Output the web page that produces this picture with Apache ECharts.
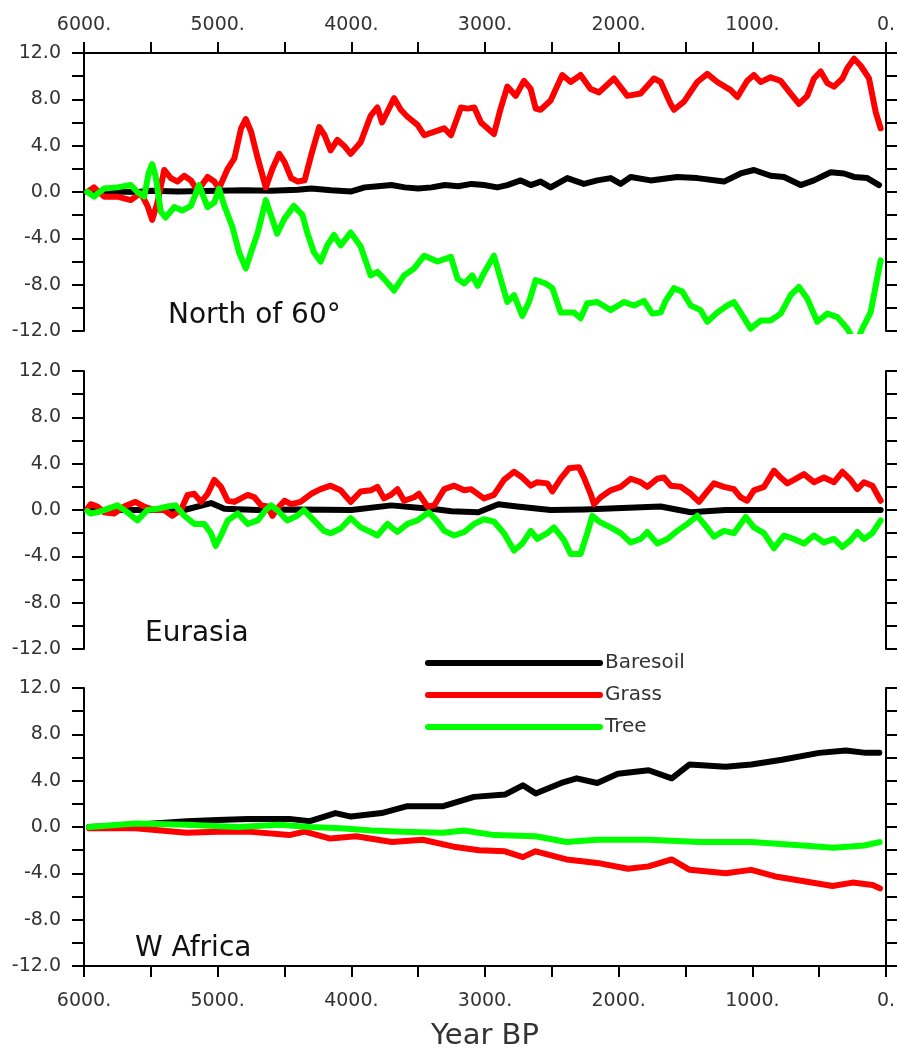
<!DOCTYPE html>
<html><head><meta charset="utf-8">
<script src="https://cdn.jsdelivr.net/npm/echarts@6/dist/echarts.min.js"></script>
<style>html,body{margin:0;padding:0;background:#fff}#c{width:899px;height:1054px}</style>
</head><body><div id="c"></div>
<script>
// ---- data: [Year BP, value] ----
const xTickLabels = ['6000.','5000.','4000.','3000.','2000.','1000.','0.'];
const panelNames = ['North of 60°','Eurasia','W Africa'];
const seriesNames = ['Baresoil','Grass','Tree'];

const north_bare = [[5975,0],[5800,0.05],[5600,0],[5500,0.1],[5300,0.05],[5000,0.1],[4800,0.15],[4600,0.1],[4400,0.2],[4300,0.3],[4150,0.15],[4000,0.05],[3900,0.4],[3800,0.5],[3700,0.6],[3600,0.4],[3500,0.3],[3400,0.4],[3300,0.6],[3200,0.5],[3100,0.7],[3008,0.6],[2908,0.4],[2833,0.6],[2733,1.0],[2658,0.6],[2584,0.9],[2509,0.4],[2384,1.2],[2260,0.7],[2160,1.0],[2060,1.2],[1985,0.7],[1910,1.3],[1761,1.0],[1561,1.3],[1412,1.2],[1212,0.9],[1088,1.6],[988,1.9],[863,1.4],[763,1.3],[639,0.6],[539,1.0],[414,1.7],[314,1.6],[239,1.3],[140,1.2],[52,0.6]];
const north_grass = [[5975,0.0],[5925,0.4],[5850,-0.4],[5750,-0.4],[5650,-0.7],[5575,-0.1],[5525,-1.2],[5490,-2.4],[5450,-0.9],[5400,1.9],[5350,1.2],[5300,0.9],[5250,1.4],[5200,1.0],[5150,0.1],[5075,1.3],[5025,0.9],[4990,0.3],[4925,2.0],[4875,2.9],[4825,5.5],[4790,6.3],[4750,5.2],[4700,2.9],[4640,0.4],[4590,2.0],[4540,3.3],[4500,2.6],[4450,1.2],[4400,0.9],[4350,1.0],[4300,3.2],[4240,5.6],[4200,4.9],[4155,3.6],[4105,4.5],[4055,4.0],[4005,3.3],[3930,4.3],[3855,6.6],[3805,7.3],[3770,6.0],[3680,8.1],[3630,7.1],[3580,6.5],[3505,5.8],[3455,4.9],[3355,5.3],[3305,5.5],[3255,4.9],[3180,7.3],[3130,7.2],[3080,7.3],[3030,6.0],[2933,5.0],[2883,7.2],[2833,9.1],[2770,8.3],[2708,9.6],[2658,8.9],[2621,7.2],[2584,7.1],[2509,7.9],[2422,10.1],[2359,9.5],[2285,10.1],[2210,8.9],[2147,8.6],[2035,9.8],[1935,8.3],[1836,8.5],[1736,9.8],[1686,9.5],[1611,7.6],[1586,7.1],[1511,7.8],[1412,9.5],[1337,10.2],[1262,9.5],[1162,8.8],[1112,8.2],[1038,9.6],[988,10.1],[938,9.5],[863,9.9],[788,9.6],[713,8.5],[651,7.6],[589,8.3],[539,9.8],[489,10.4],[439,9.4],[389,9.1],[326,9.8],[289,10.7],[239,11.5],[189,10.9],[127,9.8],[77,6.9],[40,5.5]];
const north_tree = [[5975,0.0],[5925,-0.4],[5850,0.3],[5750,0.4],[5650,0.6],[5600,0.0],[5550,-0.4],[5515,1.7],[5490,2.4],[5465,1.4],[5425,-1.7],[5390,-2.2],[5325,-1.3],[5265,-1.6],[5200,-1.2],[5140,0.6],[5075,-1.3],[5025,-0.9],[4990,0.3],[4950,-1.2],[4890,-3.0],[4840,-5.2],[4790,-6.6],[4750,-5.2],[4700,-3.5],[4640,-0.7],[4590,-2.4],[4555,-3.6],[4500,-2.3],[4430,-1.2],[4365,-2.0],[4330,-3.5],[4280,-5.2],[4230,-6.0],[4180,-4.6],[4130,-3.7],[4080,-4.6],[4005,-3.5],[3930,-4.7],[3855,-7.2],[3805,-6.9],[3755,-7.5],[3680,-8.5],[3605,-7.2],[3530,-6.6],[3455,-5.5],[3355,-6.0],[3255,-5.6],[3205,-7.5],[3155,-7.9],[3095,-7.2],[3055,-8.1],[3008,-7.0],[2933,-5.5],[2883,-7.5],[2833,-9.5],[2783,-8.9],[2721,-10.7],[2671,-9.5],[2621,-7.6],[2546,-7.9],[2496,-8.3],[2434,-10.4],[2334,-10.4],[2285,-10.9],[2235,-9.6],[2160,-9.5],[2060,-10.2],[1960,-9.5],[1885,-9.8],[1811,-9.4],[1748,-10.5],[1686,-10.4],[1649,-9.4],[1586,-8.3],[1524,-8.6],[1461,-9.8],[1387,-10.2],[1337,-11.2],[1262,-10.4],[1187,-9.8],[1138,-9.5],[1088,-10.4],[1013,-11.8],[938,-11.1],[863,-11.1],[788,-10.5],[713,-8.9],[651,-8.2],[589,-9.2],[514,-11.2],[439,-10.5],[364,-10.8],[289,-11.8],[252,-12.6],[214,-12.8],[177,-11.8],[115,-10.4],[77,-8.1],[40,-5.9]];

const eurasia_bare = [[5975,0],[5700,0.0],[5500,0.0],[5250,0.0],[5050,0.6],[4950,0.1],[4700,0.0],[4400,0.05],[4000,0.0],[3700,0.4],[3500,0.2],[3400,0.1],[3250,-0.1],[3050,-0.2],[2900,0.5],[2760,0.3],[2509,0.0],[2260,0.05],[1686,0.3],[1461,-0.2],[1200,0.0],[800,0.0],[400,0.0],[40,0.0]];
const eurasia_grass = [[5975,0.1],[5950,0.5],[5900,0.3],[5850,-0.2],[5775,-0.3],[5700,0.3],[5615,0.7],[5550,0.3],[5475,0.0],[5400,0.0],[5340,-0.5],[5275,0.0],[5225,1.3],[5175,1.4],[5125,0.7],[5075,1.4],[5025,2.6],[4975,2.0],[4925,0.8],[4875,0.7],[4825,1.0],[4775,1.3],[4725,1.1],[4675,0.4],[4625,0.3],[4590,-0.5],[4555,0.1],[4500,0.8],[4450,0.5],[4380,0.7],[4300,1.4],[4230,1.8],[4155,2.1],[4080,1.7],[4005,0.7],[3930,1.6],[3855,1.7],[3805,2.0],[3755,1.0],[3705,1.3],[3655,1.8],[3605,0.8],[3530,1.1],[3495,1.4],[3430,0.3],[3380,0.4],[3305,1.8],[3230,2.1],[3155,1.7],[3105,1.8],[3008,1.0],[2933,1.3],[2858,2.6],[2783,3.3],[2721,2.8],[2658,2.1],[2609,2.4],[2534,2.3],[2496,1.6],[2434,2.7],[2372,3.6],[2297,3.7],[2260,2.8],[2210,1.4],[2185,0.5],[2135,1.1],[2060,1.7],[1985,2.0],[1910,2.7],[1836,2.4],[1786,2.0],[1711,2.7],[1661,2.8],[1611,2.1],[1536,2.0],[1461,1.4],[1399,0.7],[1337,1.6],[1287,2.3],[1212,2.0],[1138,1.8],[1088,1.1],[1038,0.8],[988,1.7],[913,2.0],[838,3.4],[788,2.8],[738,2.3],[689,2.6],[614,3.1],[539,2.4],[464,2.8],[389,2.4],[326,3.3],[264,2.6],[214,1.8],[165,2.4],[102,2.1],[40,0.8]];
const eurasia_tree = [[5975,-0.1],[5950,-0.3],[5900,-0.2],[5825,0.1],[5750,0.4],[5675,-0.2],[5600,-0.9],[5525,0.0],[5450,0.1],[5375,0.3],[5315,0.4],[5250,-0.5],[5175,-1.2],[5100,-1.2],[5050,-2.0],[5015,-3.1],[4975,-2.2],[4925,-0.9],[4850,-0.3],[4775,-1.2],[4700,-0.9],[4640,0.0],[4600,0.4],[4555,0.0],[4480,-0.9],[4405,-0.5],[4355,0.0],[4280,-0.9],[4205,-1.8],[4155,-2.0],[4080,-1.6],[4005,-0.7],[3930,-1.5],[3855,-1.9],[3805,-2.2],[3730,-1.2],[3655,-1.9],[3580,-1.2],[3505,-0.9],[3420,-0.2],[3355,-1.0],[3305,-1.8],[3230,-2.2],[3155,-1.9],[3080,-1.2],[3008,-0.8],[2933,-1.0],[2858,-2.0],[2783,-3.5],[2721,-2.9],[2658,-1.8],[2609,-2.5],[2534,-2.0],[2484,-1.5],[2409,-2.6],[2359,-3.8],[2285,-3.8],[2235,-2.0],[2197,-0.5],[2147,-1.0],[2060,-1.5],[1985,-2.0],[1910,-2.8],[1836,-2.5],[1786,-1.9],[1711,-2.9],[1636,-2.5],[1561,-1.8],[1486,-1.2],[1412,-0.5],[1362,-1.2],[1287,-2.3],[1212,-1.8],[1138,-2.0],[1050,-0.6],[988,-1.5],[913,-2.0],[838,-3.3],[763,-2.2],[689,-2.5],[614,-2.9],[539,-2.2],[464,-2.8],[389,-2.5],[326,-3.2],[264,-2.6],[214,-1.9],[165,-2.5],[102,-2.0],[40,-0.9]];

const wafrica_bare = [[5962,0.0],[5616,0.2],[5232,0.5],[5002,0.6],[4771,0.7],[4464,0.7],[4310,0.5],[4118,1.2],[4003,0.9],[3773,1.2],[3581,1.8],[3312,1.8],[3082,2.6],[2851,2.8],[2717,3.6],[2621,2.9],[2429,3.8],[2314,4.2],[2160,3.8],[2006,4.6],[1776,4.9],[1603,4.2],[1469,5.4],[1200,5.2],[1008,5.4],[778,5.8],[500,6.4],[300,6.6],[150,6.4],[50,6.4]];
const wafrica_grass = [[5962,-0.1],[5616,-0.1],[5424,-0.3],[5232,-0.5],[5002,-0.4],[4771,-0.4],[4464,-0.7],[4349,-0.4],[4157,-1.0],[3965,-0.8],[3696,-1.3],[3466,-1.1],[3235,-1.7],[3043,-2.0],[2851,-2.1],[2717,-2.6],[2621,-2.1],[2390,-2.8],[2160,-3.1],[1930,-3.6],[1776,-3.4],[1603,-2.8],[1469,-3.7],[1200,-4.0],[1008,-3.7],[816,-4.3],[500,-4.9],[400,-5.1],[250,-4.8],[100,-5.0],[45,-5.3]];
const wafrica_tree = [[5962,0.0],[5616,0.3],[5232,0.2],[4848,0.0],[4541,0.2],[4310,0.0],[4080,-0.1],[3850,-0.3],[3619,-0.4],[3312,-0.5],[3158,-0.3],[2928,-0.7],[2621,-0.8],[2390,-1.3],[2160,-1.1],[1776,-1.1],[1392,-1.3],[1008,-1.3],[624,-1.6],[394,-1.8],[163,-1.6],[48,-1.3]];

const panelData = [
  [north_bare, north_grass, north_tree],
  [eurasia_bare, eurasia_grass, eurasia_tree],
  [wafrica_bare, wafrica_grass, wafrica_tree]
];
const colors = ['#000000', '#ff0000', '#00ff00'];

// ---- chart ----
const FONT = 'DejaVu Sans';
const gridTops = [53, 371, 688];
const grids = gridTops.map(t => ({left: 84, right: 13, top: t, height: 278}));
const axisLineStyle = {color: '#000', width: 2};
const xAxes = [0,1,2].map(i => ({
  gridIndex: i, type: 'value', min: 0, max: 6000, interval: 500, inverse: true,
  position: i === 0 ? 'top' : 'bottom',
  axisLine: {show: i !== 1, onZero: false, lineStyle: axisLineStyle},
  axisTick: {show: i !== 1, length: 11, lineStyle: axisLineStyle},
  axisLabel: {show: i !== 1, margin: i === 0 ? 18 : 26, fontFamily: FONT, fontSize: 19, color: '#333',
    formatter: v => (v % 1000 === 0 ? xTickLabels[6 - v / 1000] : '')},
  splitLine: {show: false},
  name: i === 2 ? 'Year BP' : '', nameLocation: 'middle', nameGap: 56,
  nameTextStyle: {fontFamily: FONT, fontSize: 29, color: '#333'}
}));
const yAxes = [];
[0,1,2].forEach(i => {
  yAxes.push({gridIndex: i, type: 'value', min: -12, max: 12, interval: 2, position: 'left',
    axisLine: {show: true, onZero: false, lineStyle: axisLineStyle},
    axisTick: {show: true, length: 12, lineStyle: axisLineStyle},
    axisLabel: {margin: 23, fontFamily: FONT, fontSize: 19, color: '#333',
      formatter: v => (v % 4 === 0 ? v.toFixed(1) : '')},
    splitLine: {show: false}});
  yAxes.push({gridIndex: i, type: 'value', min: -12, max: 12, interval: 2, position: 'right',
    axisLine: {show: true, onZero: false, lineStyle: axisLineStyle},
    axisTick: {show: true, length: 11, lineStyle: axisLineStyle},
    axisLabel: {show: false}, splitLine: {show: false}});
});
const series = [];
panelData.forEach((group, i) => {
  group.forEach((d, k) => {
    series.push({name: seriesNames[k], type: 'line', xAxisIndex: i, yAxisIndex: 2 * i,
      data: d, symbol: 'none', clip: true, smooth: false,
      lineStyle: {color: colors[k], width: 6, join: 'round', cap: 'round'},
      itemStyle: {color: colors[k]}});
  });
});
const titlePos = [[168, 302], [145, 620], [135, 935]];
const chart = echarts.init(document.getElementById('c'), null, {renderer: 'canvas'});
chart.setOption({
  animation: false,
  backgroundColor: '#fff',
  grid: grids,
  xAxis: xAxes,
  yAxis: yAxes,
  title: panelNames.map((t, i) => ({text: t, left: titlePos[i][0], top: titlePos[i][1], padding: 0,
    textStyle: {fontFamily: FONT, fontSize: 28, fontWeight: 'normal', color: '#111'}})),
  legend: {data: seriesNames, orient: 'vertical', left: 425, top: 647, padding: 0,
    itemWidth: 172, itemHeight: 6, itemGap: 0, selectedMode: false,
    lineStyle: {width: 6},
    textStyle: {fontFamily: FONT, fontSize: 20, color: '#333', lineHeight: 20, padding: [0, 0, 12, 0]}},
  series: series
});
</script></body></html>
